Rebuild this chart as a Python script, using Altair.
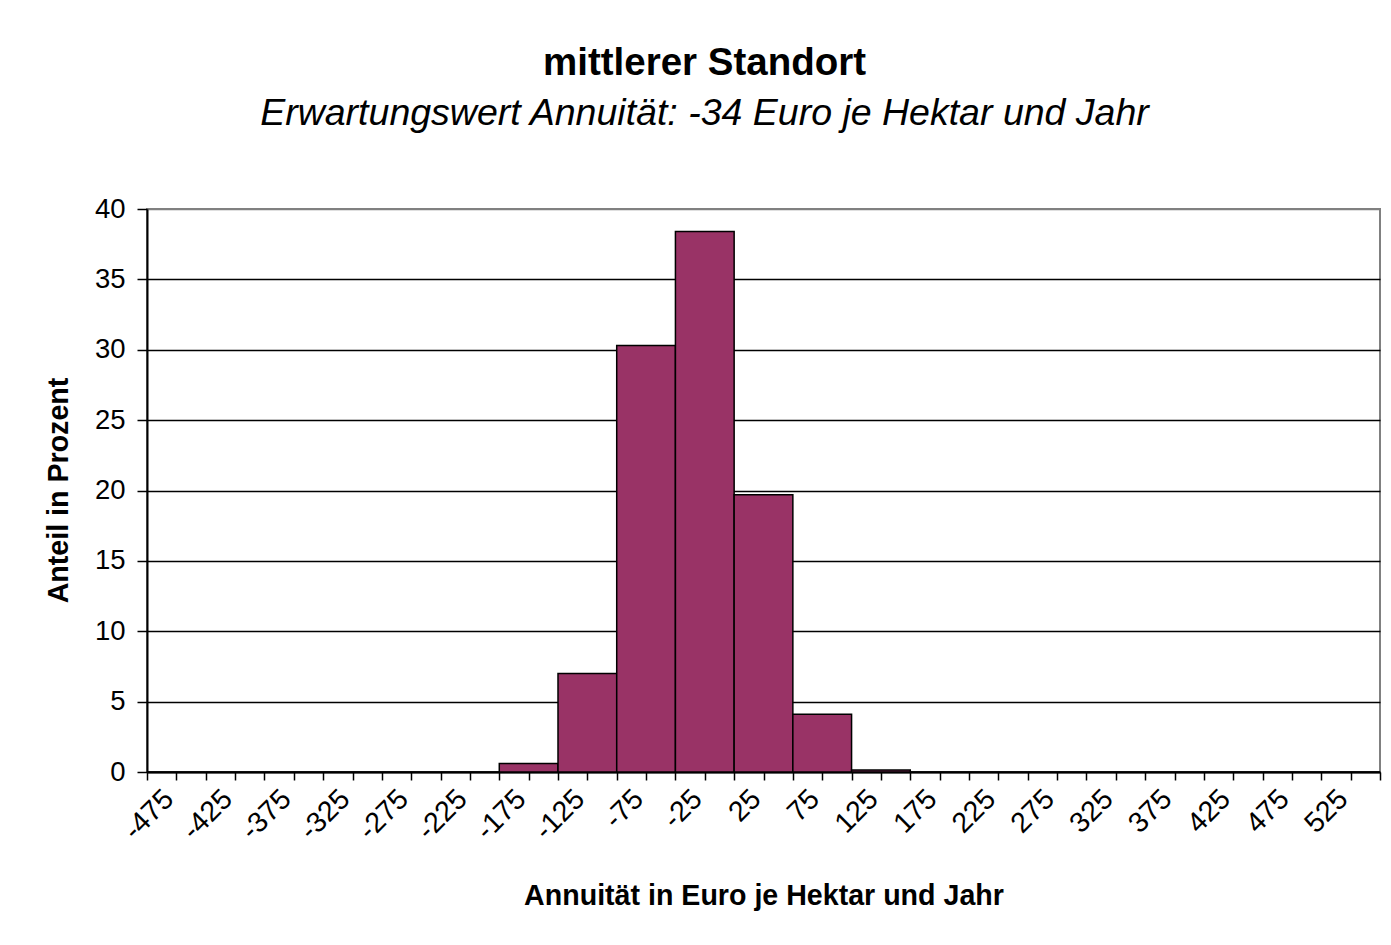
import altair as alt
import pandas as pd

# Histogram classes (centre of each 50-Euro class) and share in percent
bin_centers = [-475, -425, -375, -325, -275, -225, -175, -125, -75, -25,
               25, 75, 125, 175, 225, 275, 325, 375, 425, 475, 525]
shares = [0, 0, 0, 0, 0, 0, 0.6, 7.0, 30.3, 38.4,
          19.7, 4.1, 0.15, 0, 0, 0, 0, 0, 0, 0, 0]
bin_width = 50

y_ticks = [0, 5, 10, 15, 20, 25, 30, 35, 40]
x_tick_positions = list(range(-500, 551, 25))

df = pd.DataFrame({"center": bin_centers, "share": shares})
df["lo"] = df["center"] - bin_width / 2
df["hi"] = df["center"] + bin_width / 2
df["base"] = 0

FONT = "Liberation Sans"

bars = alt.Chart(df).mark_bar(
    fill="#993366", stroke="black", strokeWidth=1.5
).encode(
    x=alt.X(
        "lo:Q",
        scale=alt.Scale(domain=[-500, 550], nice=False, zero=False),
        axis=alt.Axis(
            values=x_tick_positions,
            labelExpr="(datum.value + 500) % 50 == 25 ? toString(datum.value) : ''",
            labelAngle=-45,
            labelAlign="right",
            labelBaseline="middle",
            labelFontSize=28.5,
            labelFont=FONT,
            labelColor="black",
            labelOverlap=False,
            labelFlush=False,
            labelPadding=14,
            labelOffset=-8,
            tickSize=8,
            tickWidth=1.5,
            tickColor="black",
            domainColor="black",
            domainWidth=2,
            grid=False,
            title="Annuität in Euro je Hektar und Jahr",
            titleFont=FONT,
            titleFontSize=28.6,
            titleFontWeight="bold",
            titleColor="black",
            titleY=123,
            titleBaseline="middle",
        ),
    ),
    x2="hi:Q",
    y=alt.Y(
        "share:Q",
        scale=alt.Scale(domain=[0, 40], nice=False),
        axis=alt.Axis(
            values=y_ticks,
            labelFontSize=27.5,
            labelFont=FONT,
            labelColor="black",
            labelPadding=12,
            tickSize=10,
            tickWidth=1.5,
            tickColor="black",
            domainColor="black",
            domainWidth=2,
            grid=True,
            gridColor=alt.condition("datum.value >= 40", alt.value("#808080"), alt.value("black")),
            gridWidth=1.5,
            title="Anteil in Prozent",
            titleFont=FONT,
            titleFontSize=28.6,
            titleFontWeight="bold",
            titleColor="black",
            titleAngle=270,
            titleX=-89,
            titleY=281,
            titleAlign="center",
            titleBaseline="middle",
        ),
    ),
    y2="base:Q",
).properties(
    width=1233,
    height=563,
    autosize=alt.AutoSizeParams(type="none"),
    padding={"left": 139, "top": 201, "right": 2, "bottom": 160},
    background="white",
    title=alt.Title(
        "mittlerer Standort",
        subtitle="Erwartungswert Annuität: -34 Euro je Hektar und Jahr",
        font=FONT,
        subtitleFont=FONT,
        fontSize=38.5,
        subtitleFontSize=37.5,
        fontWeight="bold",
        subtitleFontStyle="italic",
        color="black",
        subtitleColor="black",
        anchor="middle",
        dx=-59,
        offset=62,
        subtitlePadding=11,
    ),
).configure_view(
    stroke="#808080", strokeWidth=2
)

chart = bars
chart.save("out.html", embed_options={"renderer": "svg", "actions": False})
